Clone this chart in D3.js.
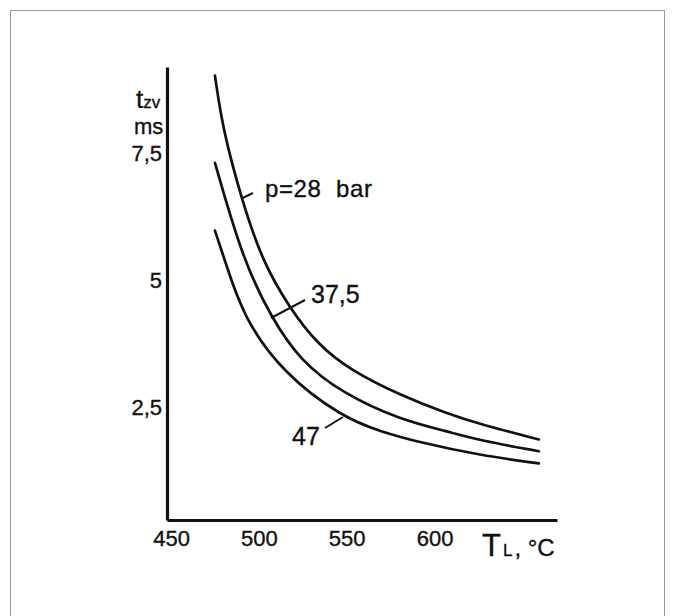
<!DOCTYPE html>
<html>
<head>
<meta charset="utf-8">
<script src="https://cdn.jsdelivr.net/npm/d3@7/dist/d3.min.js"></script>
<style>
  body { margin: 0; background: #fff; }
  svg { display: block; font-family: "Liberation Sans", Arial, sans-serif; }
  text { fill: #111; stroke: #111; stroke-width: 0.35px; }
</style>
</head>
<body>
<script>
// air temperature T_L (°C) and delay t_zv (ms)
var tempP28  = [475.0, 479.6, 490.4, 501.8, 517.7, 533.1, 551.9, 580.3, 607.1, 625.9, 659.4];
var delayP28 = [9.02, 7.94, 6.57, 5.39, 4.45, 3.76, 3.24, 2.75, 2.39, 2.18, 1.88];

var tempP37  = [475.0, 491.0, 507.5, 523.4, 547.9, 580.3, 607.1, 625.9, 659.4];
var delayP37 = [7.31, 5.39, 4.25, 3.43, 2.78, 2.27, 2.04, 1.86, 1.65];

var tempP47  = [475.0, 480.7, 491.0, 513.7, 547.9, 569.0, 591.7, 625.9, 659.4];
var delayP47 = [5.98, 5.39, 4.29, 3.18, 2.31, 2.04, 1.82, 1.57, 1.41];

var xTicks = [450, 500, 550, 600];
var yTicks = [2.5, 5, 7.5];
var yTickText = ["2,5", "5", "7,5"];

var width = 673, height = 616;

var svg = d3.select("body").append("svg")
    .attr("width", width)
    .attr("height", height);

// thin grey frame around the figure
svg.append("rect")
    .attr("x", 10.5).attr("y", 10.5)
    .attr("width", 654).attr("height", 640)
    .attr("fill", "none")
    .attr("stroke", "#9a9a9a")
    .attr("stroke-width", 1);

// scales
var x = d3.scaleLinear().domain([447.7, 669.7]).range([167, 557]);
var y = d3.scaleLinear().domain([0.3, 9.19]).range([520, 67]);

// axes (no tick marks, just the lines and labels)
var xAxis = svg.append("g")
    .attr("transform", "translate(0,520)")
    .call(d3.axisBottom(x).tickValues(xTicks).tickSize(0).tickPadding(10));
xAxis.select(".domain").attr("stroke", "#111").attr("stroke-width", 3.2);
xAxis.selectAll("text")
    .attr("font-size", "22px")
    .attr("font-family", "Liberation Sans, Arial, sans-serif")
    .attr("fill", "#111");

var yAxis = svg.append("g")
    .attr("transform", "translate(167,0)")
    .call(d3.axisLeft(y).tickValues(yTicks).tickSize(0).tickPadding(5)
        .tickFormat(function(d, i) { return yTickText[i]; }));
yAxis.select(".domain").attr("stroke", "#111").attr("stroke-width", 3.2);
yAxis.selectAll("text")
    .attr("font-size", "22px")
    .attr("font-family", "Liberation Sans, Arial, sans-serif")
    .attr("fill", "#111");

// curves
var line = d3.line()
    .curve(d3.curveBasis)
    .x(function(d) { return x(d[0]); })
    .y(function(d) { return y(d[1]); });

var series = [
    d3.zip(tempP28, delayP28),
    d3.zip(tempP37, delayP37),
    d3.zip(tempP47, delayP47)
];

svg.selectAll(".curve")
    .data(series)
    .enter().append("path")
    .attr("class", "curve")
    .attr("d", line)
    .attr("fill", "none")
    .attr("stroke", "#111")
    .attr("stroke-width", 2.7)
    .attr("stroke-linecap", "round");

// leader lines for the pressure labels
var leaders = [
    [[241.5, 198.5], [253, 193]],
    [[271, 318], [305, 300]],
    [[343, 417], [325, 428]]
];
svg.selectAll(".leader")
    .data(leaders)
    .enter().append("line")
    .attr("class", "leader")
    .attr("x1", function(d) { return d[0][0]; })
    .attr("y1", function(d) { return d[0][1]; })
    .attr("x2", function(d) { return d[1][0]; })
    .attr("y2", function(d) { return d[1][1]; })
    .attr("stroke", "#111")
    .attr("stroke-width", 2);

svg.append("text")
    .attr("x", 265).attr("y", 197)
    .attr("font-size", "24px")
    .attr("letter-spacing", "0.6px")
    .style("white-space", "pre")
    .text("p=28  bar");

svg.append("text")
    .attr("x", 311).attr("y", 303)
    .attr("font-size", "25px")
    .text("37,5");

svg.append("text")
    .attr("x", 292).attr("y", 445)
    .attr("font-size", "25px")
    .text("47");

// y axis title: t_zv / ms
var yt = svg.append("text").attr("x", 136).attr("y", 108).attr("font-size", "26px");
yt.append("tspan").text("t");
yt.append("tspan").attr("font-size", "17px").text("zv");

svg.append("text")
    .attr("x", 134).attr("y", 134)
    .attr("font-size", "22px")
    .text("ms");

// x axis title: T_L , °C
var xt = svg.append("text").attr("x", 482).attr("y", 556).attr("font-size", "31px");
xt.append("tspan").text("T");
xt.append("tspan").attr("font-size", "17px").attr("dx", 2).text("L");
xt.append("tspan").attr("font-size", "24px").attr("dx", 2).text(", °C");
</script>
</body>
</html>
